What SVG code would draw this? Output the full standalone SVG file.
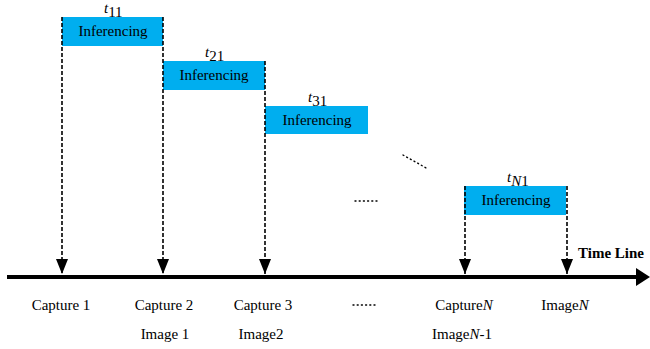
<svg xmlns="http://www.w3.org/2000/svg" width="650" height="349" viewBox="0 0 650 349">
<style>
.box{fill:#00AEEF}
text{font-family:'Liberation Serif','Times New Roman','DejaVu Serif',serif;font-size:15px;fill:#000}
.m{text-anchor:middle}
.i{font-style:italic}
.b{font-weight:bold}
.dash{stroke:#000;stroke-width:1.6;stroke-dasharray:4 2;fill:none}
.dots{stroke:#000;stroke-width:1.4;stroke-dasharray:1 3.2;stroke-linecap:round;fill:none}
</style>
<defs>
<marker id="ah" markerWidth="15" markerHeight="12" refX="15" refY="6" orient="auto" markerUnits="userSpaceOnUse" viewBox="0 0 15 12">
<path d="M0,0 L15,6 L0,12 Z" fill="#000"/>
</marker>
</defs>
<rect width="650" height="349" fill="#fff"/>

<g id="task1">
<rect class="box" x="62" y="17" width="101" height="29"/>
<text class="m" x="113" y="36" font-family="Liberation Serif, serif">Inferencing</text>
<text x="104" y="13" font-family="Liberation Serif, serif"><tspan class="i">t</tspan><tspan dy="4">11</tspan></text>
</g>
<g id="task2">
<rect class="box" x="163" y="61" width="102" height="29"/>
<text class="m" x="214" y="80" font-family="Liberation Serif, serif">Inferencing</text>
<text x="205" y="57" font-family="Liberation Serif, serif"><tspan class="i">t</tspan><tspan dy="4">21</tspan></text>
</g>
<g id="task3">
<rect class="box" x="265" y="106" width="103" height="28"/>
<text class="m" x="317" y="125" font-family="Liberation Serif, serif">Inferencing</text>
<text x="308" y="102" font-family="Liberation Serif, serif"><tspan class="i">t</tspan><tspan dy="4">31</tspan></text>
</g>
<g id="taskN">
<rect class="box" x="464" y="186" width="102" height="29"/>
<text class="m" x="516" y="205" font-family="Liberation Serif, serif">Inferencing</text>
<text x="507" y="182" font-family="Liberation Serif, serif"><tspan class="i">t</tspan><tspan dy="4"><tspan class="i">N</tspan>1</tspan></text>
</g>

<g id="ellipses">
<line class="dots" x1="403" y1="155" x2="428" y2="169"/>
<line class="dots" x1="355" y1="201" x2="379" y2="201"/>
<line class="dots" x1="353" y1="305" x2="378" y2="305"/>
</g>

<g id="timeline">
<line x1="7" y1="277" x2="640" y2="277" stroke="#000" stroke-width="4"/>
<polygon points="636,268 650,277 636,286" fill="#000"/>
<text class="b" x="578" y="258" font-family="Liberation Serif, serif">Time Line</text>
</g>

<g id="connectors">
<line class="dash" x1="62" y1="17" x2="62" y2="274" marker-end="url(#ah)"/>
<line class="dash" x1="163" y1="17" x2="163" y2="274" marker-end="url(#ah)"/>
<line class="dash" x1="265" y1="61" x2="265" y2="274" marker-end="url(#ah)"/>
<line class="dash" x1="465" y1="186" x2="465" y2="274" marker-end="url(#ah)"/>
<line class="dash" x1="567" y1="186" x2="567" y2="274" marker-end="url(#ah)"/>
</g>

<g id="labels" font-family="Liberation Serif, serif">
<text class="m" x="61" y="310">Capture 1</text>
<text class="m" x="164" y="310">Capture 2</text>
<text class="m" x="263" y="310">Capture 3</text>
<text class="m" x="165" y="339">Image 1</text>
<text class="m" x="261" y="339">Image2</text>
<text class="m" x="464" y="310">Capture<tspan class="i">N</tspan></text>
<text class="m" x="462" y="339">Image<tspan class="i">N</tspan>-1</text>
<text class="m" x="565" y="310">Image<tspan class="i">N</tspan></text>
</g>
</svg>
